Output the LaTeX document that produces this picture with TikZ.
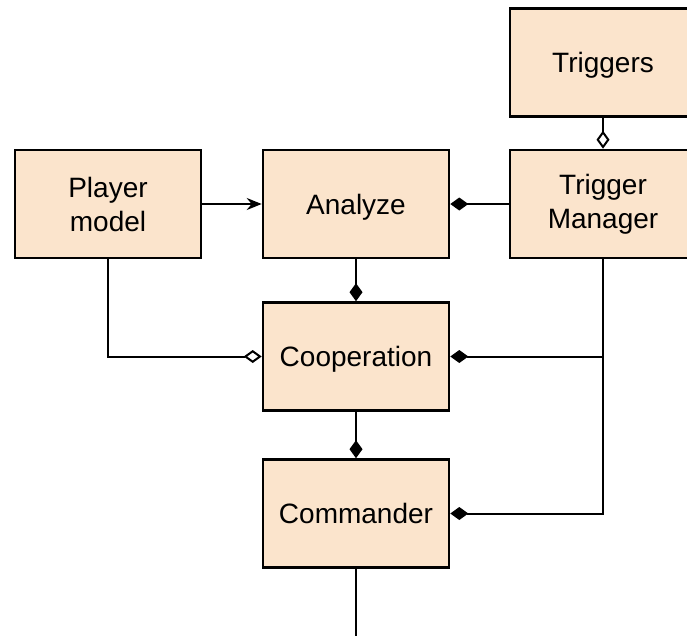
\documentclass[tikz,border=0pt]{standalone}
\usepackage{fontspec}
\setmainfont{Liberation Sans}
\usetikzlibrary{arrows.meta}
\definecolor{boxfill}{HTML}{FBE4CC}
\begin{document}
\begin{tikzpicture}[x=1pt,y=-1pt,
  block/.style={draw=black, line width=2.6pt, fill=boxfill,
    minimum width=186pt, minimum height=108pt, inner sep=0pt,
    align=center, font=\fontsize{28}{34}\selectfont},
  oneline/.style={text height=20pt, text depth=0pt},
  link/.style={draw=black, line width=2pt},
  comp/.style={link, -{Diamond[length=18pt,width=13pt]}},
  aggr/.style={link, -{Diamond[open,length=18pt,width=13pt,fill=white]}},
  flow/.style={link, -{Stealth[length=15pt,width=12pt,inset=5pt]}}]

\path[use as bounding box] (0,0) rectangle (687,635);
\clip (0,0) rectangle (687,635);

% components
\node[block,oneline] (trig) at (603,62.5) {Triggers};
\node[block]         (pm)   at (108,204)  {Player\\model};
\node[block,oneline] (an)   at (356,204)  {Analyze};
\node[block]         (tm)   at (603,204)  {Trigger\\Manager};
\node[block,oneline] (co)   at (356,356.5){Cooperation};
\node[block,oneline] (cm)   at (356,513.5){Commander};
\coordinate (out) at (356,640);

% relations
\draw[flow] (pm.east) -- (an.west);
\draw[comp] (tm.west) -- (an.east);
\draw[aggr] (trig.south) -- (tm.north);
\draw[comp] (an.south) -- (co.north);
\draw[aggr] (pm.south) |- (co.west);
\draw[comp] (tm.south) |- (co.east);
\draw[comp] (tm.south) |- (cm.east);
\draw[comp] (co.south) -- (cm.north);
\draw[link] (cm.south) -- (out);
\end{tikzpicture}
\end{document}
